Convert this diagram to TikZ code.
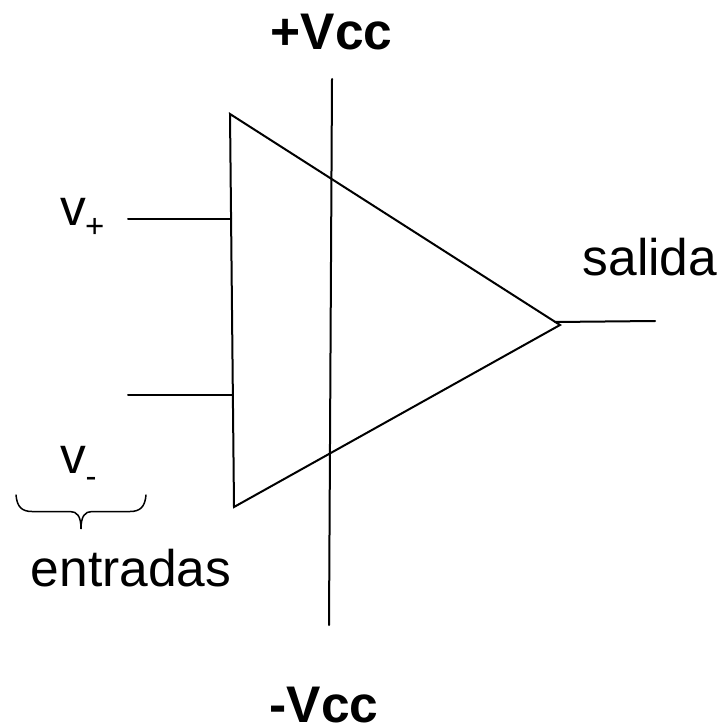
\documentclass[tikz,border=0pt]{standalone}
\usepackage{fontspec}
\setmainfont{Liberation Sans}
\tikzset{ln/.style={draw=black,line width=2pt,line cap=round,line join=miter},
bracel/.style={draw=black,line width=1.5pt,line cap=round},
lbl/.style={inner sep=0pt,font=\fontsize{51.5}{56}\selectfont,anchor=base},
blbl/.style={lbl,font=\fontsize{51.5}{56}\selectfont\bfseries},
sub/.style={inner sep=0pt,anchor=base west,font=\fontsize{33}{36}\selectfont}}
\begin{document}
\begin{tikzpicture}[x=1pt,y=-1pt]
\useasboundingbox (0,0) rectangle (719,727);
\coordinate (A) at (230,114);
\coordinate (B) at (560,325);
\coordinate (C) at (234,507);
\draw[ln] (A) -- (B) -- (C) -- cycle;
\coordinate (vt) at (332,79);
\coordinate (vb) at (329,625);
\draw[ln] (vt) -- (vb);
\coordinate (i1) at (128,219);
\coordinate (i1e) at (231,219);
\draw[ln] (i1) -- (i1e);
\coordinate (i2) at (128,395);
\coordinate (i2e) at (232,395);
\draw[ln] (i2) -- (i2e);
\coordinate (o) at (655,321);
\coordinate (oe) at (555,322);
\draw[ln] (oe) -- (o);
\node[blbl] (vcc) at (331.5,49.5) {+Vcc};
\node[blbl] (mvcc) at (324,722) {-Vcc};
\node[lbl] (sal) at (650,275) {salida};
\node[lbl] (ent) at (131,586) {entradas};
\node[lbl,anchor=base west] (vp) at (60,225.5) {v};
\node[sub] (vps) at (85,237) {+};
\node[lbl,anchor=base west] (vm) at (60,473) {v};
\node[sub] (vms) at (85.5,487) {-};
\draw[bracel] (16,495) .. controls (17,507) and (22,511.5) .. (32,511.5) -- (70,511.5) .. controls (77,511.5) and (81,516) .. (81,529) .. controls (81,516) and (85,511.5) .. (92,511.5) -- (130,511.5) .. controls (140,511.5) and (145,507) .. (146,495);
\end{tikzpicture}
\end{document}
